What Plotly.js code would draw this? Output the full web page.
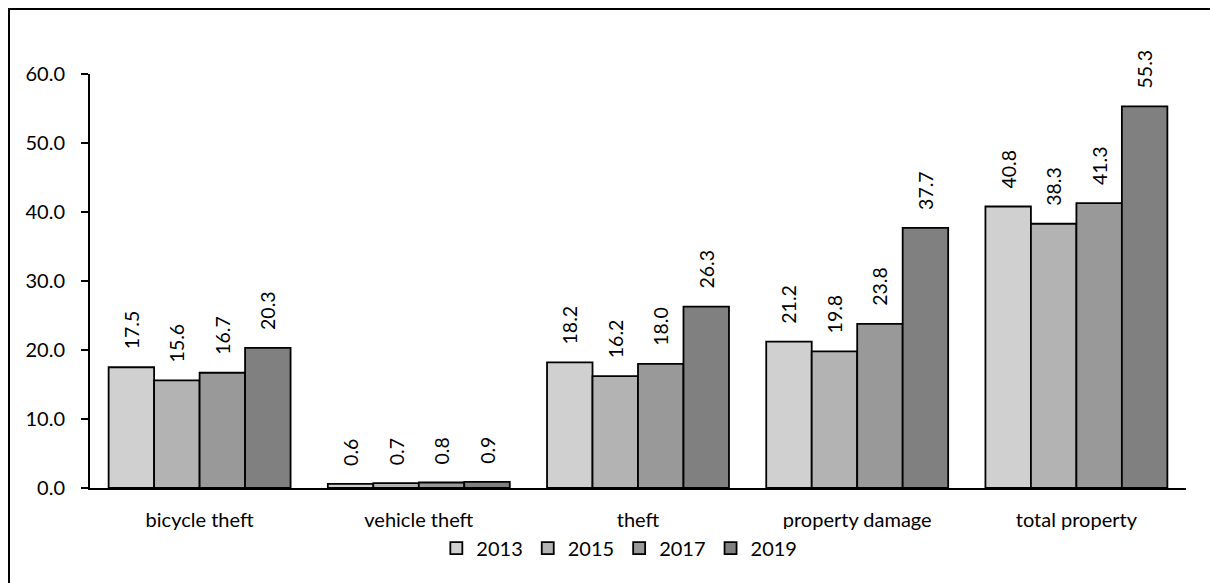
<!DOCTYPE html>
<html>
<head>
<meta charset="utf-8">
<script src="https://cdn.plot.ly/plotly-3.0.1.min.js"></script>
<style>
  html, body { margin: 0; padding: 0; background: #fff; overflow: hidden; }
  #chart { width: 1210px; height: 583px; position: relative; }
  #frame { position: absolute; left: 8px; top: 8px; width: 1400px; height: 800px;
           border: 2.5px solid #000; box-sizing: border-box; pointer-events: none; }
</style>
</head>
<body>
<div id="chart"></div>
<div id="frame"></div>
<script>
// Property offences per year, by category
const categories = ["bicycle theft", "vehicle theft", "theft", "property damage", "total property"];
const years = ["2013", "2015", "2017", "2019"];
const values2013 = [17.5, 0.6, 18.2, 21.2, 40.8];
const values2015 = [15.6, 0.7, 16.2, 19.8, 38.3];
const values2017 = [16.7, 0.8, 18.0, 23.8, 41.3];
const values2019 = [20.3, 0.9, 26.3, 37.7, 55.3];
const yTicks = [0, 10, 20, 30, 40, 50, 60];

const series = [values2013, values2015, values2017, values2019];
const fills = ["#d0d0d0", "#b3b3b3", "#999999", "#808080"];
const FONT = "Lato, 'Open Sans', sans-serif";

const traces = series.map((vals, i) => ({
  type: "bar",
  name: years[i],
  x: categories,
  y: vals,
  marker: { color: fills[i], line: { color: "#000", width: 1.8 } },
  texttemplate: "\u00a0\u00a0\u00a0%{y:.1f}",
  textposition: "outside",
  textangle: -90,
  constraintext: "none",
  cliponaxis: false,
  textfont: { family: FONT, size: 19.5, color: "#000" },
  hoverinfo: "x+y+name"
}));

const layout = {
  width: 1210,
  height: 583,
  margin: { l: 90, r: 24, t: 74, b: 95 },
  paper_bgcolor: "#fff",
  plot_bgcolor: "#fff",
  barmode: "group",
  bargap: 0.17,
  bargroupgap: 0,
  font: { family: FONT, size: 20, color: "#000" },
  xaxis: {
    type: "category",
    showline: true,
    linecolor: "#000",
    linewidth: 1.5,
    ticks: "",
    showgrid: false,
    tickfont: { family: FONT, size: 20, color: "#000" },
    ticklabelstandoff: 13
  },
  yaxis: {
    range: [0, 60],
    tickvals: yTicks,
    ticktext: yTicks.map(v => v.toFixed(1)),
    showline: true,
    linecolor: "#000",
    linewidth: 2,
    ticks: "outside",
    ticklen: 7,
    tickwidth: 1.5,
    tickcolor: "#000",
    showgrid: false,
    zeroline: false,
    tickfont: { family: FONT, size: 20, color: "#000" },
    ticklabelstandoff: 12
  },
  legend: {
    orientation: "h",
    x: 0.316,
    xanchor: "left",
    y: -0.145,
    yanchor: "middle",
    font: { family: FONT, size: 20, color: "#000" },
    itemwidth: 30,
    traceorder: "normal"
  },
  showlegend: true
};

Plotly.newPlot("chart", traces, layout, { displayModeBar: false, staticPlot: true });
</script>
</body>
</html>
